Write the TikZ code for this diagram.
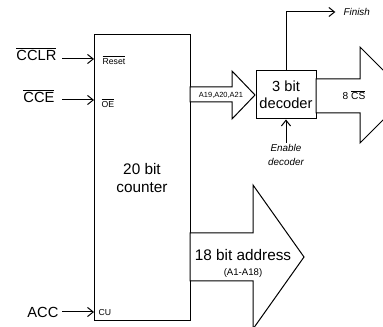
\documentclass[tikz,border=0pt]{standalone}
\usepackage{fontspec}
\setmainfont{Liberation Sans}
\usetikzlibrary{arrows.meta}
\tikzset{
  >={Straight Barb[length=1.5mm,width=2.4mm]},
  block/.style={draw,line width=.75pt,fill=white,align=center},
  sig/.style={->,line width=.75pt},
  big/.style={font=\fontsize{11.5}{13.5}\selectfont,align=center,inner sep=1pt},
  mid/.style={font=\fontsize{11}{13}\selectfont,align=center,inner sep=1pt},
  pin/.style={font=\fontsize{6.5}{8}\selectfont,inner sep=1pt},
  tiny/.style={font=\fontsize{5.6}{7}\selectfont,inner sep=1pt},
  tag/.style={font=\fontsize{7.4}{10.5}\selectfont\itshape,align=center,inner sep=1pt}
}
\begin{document}
\begin{tikzpicture}[x=.75pt,y=-.75pt]
  \useasboundingbox (0,0) rectangle (383,327);
  \clip (0,0) rectangle (383,327);
  % counter and decoder
  \node[block,big,minimum width=72pt,minimum height=214.5pt] (counter) at (142,178) {20 bit\\counter};
  \node[block,mid,minimum width=45pt,minimum height=36pt] (dec) at (286,95) {3 bit\\decoder};
  % pins of the counter
  \coordinate (rst) at (94,59);
  \coordinate (oe) at (94,100);
  \coordinate (cu) at (94,312);
  \node[pin,anchor=west] (rstl) at (101,60) {$\overline{\mbox{Reset}}$};
  \node[pin,anchor=west] (oel) at (100,103) {$\overline{\mbox{OE}}$};
  \node[pin,anchor=west] (cul) at (97,313) {CU};
  % inputs
  \node[mid,anchor=east] (cclr) at (58,54) {$\overline{\mbox{CCLR}}$};
  \node[mid,anchor=east] (cce) at (56,96) {$\overline{\mbox{CCE}}$};
  \node[mid,anchor=east] (acc) at (60,312) {ACC};
  \draw[sig] (cclr.east |- rst) ++(4,0) -- (rst);
  \draw[sig] (cce.east |- oe) ++(6,0) -- (oe);
  \draw[sig] (acc.east) ++(2,0) -- (cu);
  % bus arrows
  \draw[block] (190,87) -- (232,87) -- (232,71) -- (255,95) -- (232,119) -- (232,102) -- (190,102) -- cycle;
  \node[tiny] (abus) at (221,95) {A19,A20,A21};
  \draw[block] (316,79) -- (360,79) -- (360,47) -- (408,95) -- (360,143) -- (360,113) -- (316,113) -- cycle;
  \node[pin,font=\fontsize{7.6}{9}\selectfont] (csout) at (354,95) {8 $\overline{\mbox{CS}}$};
  \draw[block] (190,233) -- (253,233) -- (253,185) -- (304,257) -- (253,329) -- (253,281) -- (190,281) -- cycle;
  \node[big] (addr) at (243,255) {18 bit address};
  \node[pin,font=\fontsize{7.2}{9}\selectfont] (addrl) at (243,273) {(A1-A18)};
  % decoder control
  \node[tag,anchor=west] (finish) at (342,12) {Finish};
  \draw[sig,shorten >=5pt] (dec.north) -- (dec.north |- finish) -- (finish.west);
  \node[tag] (en) at (286,155) {Enable\\decoder};
  \draw[sig] (en.north) -- (dec.south);
\end{tikzpicture}
\end{document}
